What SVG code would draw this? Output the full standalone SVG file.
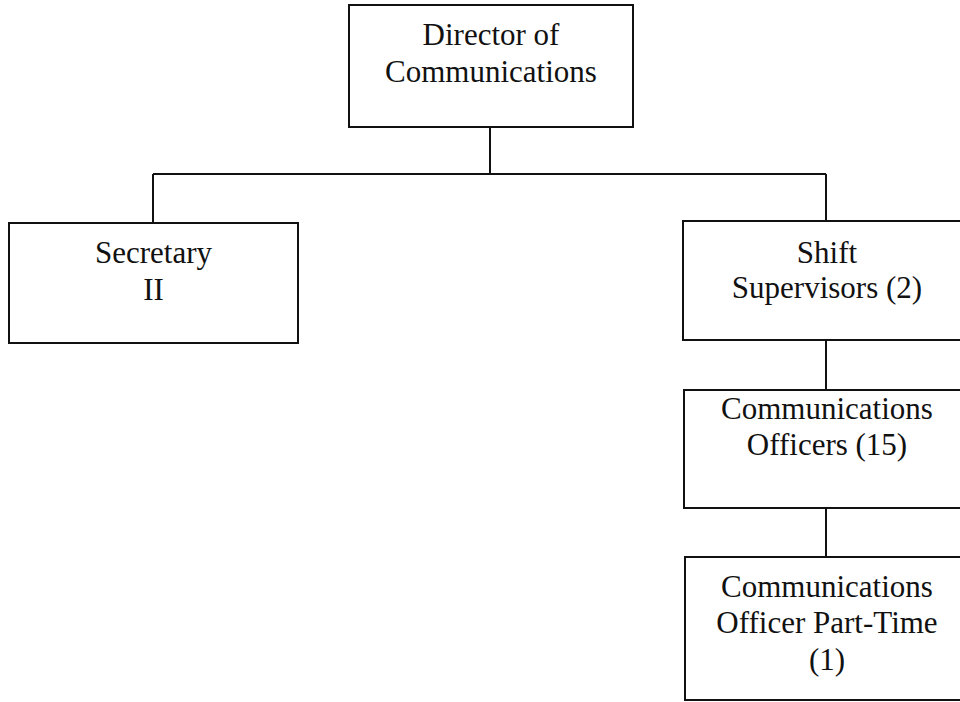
<svg xmlns="http://www.w3.org/2000/svg" width="960" height="702" viewBox="0 0 960 702" font-family="'Liberation Serif', 'DejaVu Serif', serif">
<style>
.box{fill:#fff;stroke:#111;stroke-width:2}
.ln{fill:none;stroke:#111;stroke-width:2}
.t{font-family:'Liberation Serif', 'DejaVu Serif', serif;font-size:31px;fill:#111;text-anchor:middle}
</style>
<rect width="960" height="702" fill="#fff"/>
<g id="connectors">
<path class="ln" d="M490 127V174M153 174H826M153 174V223M826 174V221M826 340V390M826 508V557"/>
</g>
<g id="director">
<rect class="box" x="349" y="5" width="284" height="122"/>
<text class="t" x="491" y="45">Director of</text>
<text class="t" x="491" y="82">Communications</text>
</g>
<g id="secretary">
<rect class="box" x="9" y="223" width="289" height="120"/>
<text class="t" x="153.5" y="263">Secretary</text>
<text class="t" x="153.5" y="300">II</text>
</g>
<g id="shift">
<rect class="box" x="683" y="221" width="288" height="119"/>
<text class="t" x="827" y="263">Shift</text>
<text class="t" x="827" y="298">Supervisors (2)</text>
</g>
<g id="officers">
<rect class="box" x="684" y="390" width="288" height="118"/>
<text class="t" x="827" y="419">Communications</text>
<text class="t" x="827" y="455">Officers (15)</text>
</g>
<g id="parttime">
<rect class="box" x="685" y="557" width="288" height="143"/>
<text class="t" x="827" y="597">Communications</text>
<text class="t" x="827" y="633">Officer Part-Time</text>
<text class="t" x="827" y="670">(1)</text>
</g>
</svg>
